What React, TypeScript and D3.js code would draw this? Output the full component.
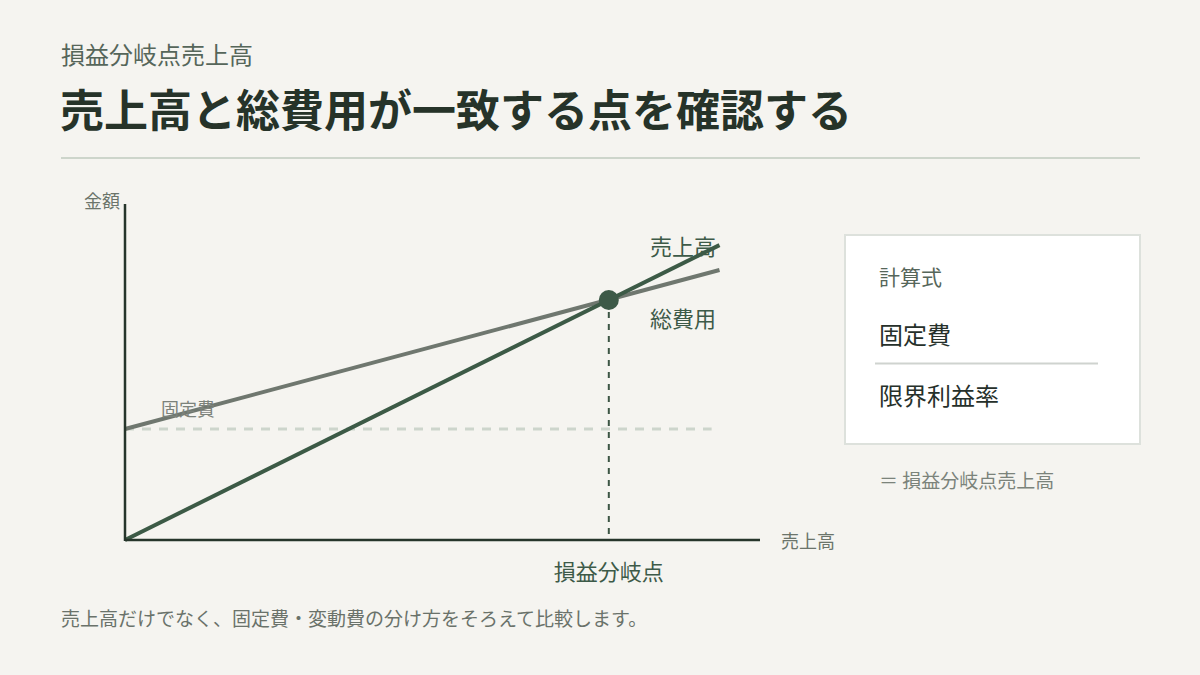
import React from "react";
import * as d3 from "d3";

const salesPoints = [0, 98.3];
const revenueValues = [0, 98.3];
const totalCostValues = [37, 90];
const fixedCostPoints = [0, 97];
const fixedCostValues = [37, 37];
const breakEven = { sales: 80, amount: 80 };
const xDomain = [0, 105];
const yDomain = [0, 112];

const subtitle = "損益分岐点売上高";
const title = "売上高と総費用が一致する点を確認する";
const footer = "売上高だけでなく、固定費・変動費の分け方をそろえて比較します。";

const FONT = "'Noto Sans CJK JP', 'Noto Sans', sans-serif";

export default function App() {
  const x = d3.scaleLinear().domain(xDomain).range([125, 760]);
  const y = d3.scaleLinear().domain(yDomain).range([540, 204]);
  const line = d3
    .line<[number, number]>()
    .x((d) => x(d[0]))
    .y((d) => y(d[1]));
  const revenue = salesPoints.map((s, i) => [s, revenueValues[i]] as [number, number]);
  const total = salesPoints.map((s, i) => [s, totalCostValues[i]] as [number, number]);
  const fixed = fixedCostPoints.map((s, i) => [s, fixedCostValues[i]] as [number, number]);
  const bx = x(breakEven.sales);
  const by = y(breakEven.amount);

  return (
    <svg
      width={1200}
      height={675}
      style={{ position: "absolute", left: 0, top: 0, display: "block" }}
      fontFamily={FONT}
    >
      <rect width={1200} height={675} fill="#f5f4f0" />
      <text x={61} y={64} fontSize={24} fill="#56665a">{subtitle}</text>
      <text x={60} y={127} fontSize={44} fontWeight={700} fill="#263329">{title}</text>
      <line x1={61} x2={1140} y1={158} y2={158} stroke="#cdd5cb" strokeWidth={2} />

      {/* fixed cost dashed */}
      <path d={line(fixed) || ""} stroke="#cdd5cc" strokeWidth={3} fill="none" strokeDasharray="9 8" />
      {/* total cost */}
      <path d={line(total) || ""} stroke="#6f776f" strokeWidth={4} fill="none" />
      {/* revenue */}
      <path d={line(revenue) || ""} stroke="#3c5a46" strokeWidth={4} fill="none" />
      {/* vertical dashed */}
      <line x1={bx} x2={bx} y1={by} y2={y(0)} stroke="#3c5544" strokeWidth={2} strokeDasharray="6 6" />

      {/* axes */}
      <line x1={x(0)} x2={x(0)} y1={y(yDomain[1])} y2={y(0) + 1} stroke="#26352b" strokeWidth={2.5} />
      <line x1={x(0)} x2={x(xDomain[1])} y1={y(0)} y2={y(0)} stroke="#26352b" strokeWidth={2.5} />

      <circle cx={bx} cy={by} r={10} fill="#3d5a48" />

      <text x={120} y={208} fontSize={18} fill="#6b746b" textAnchor="end">金額</text>
      <text x={781} y={548} fontSize={18} fill="#6b746b">売上高</text>
      <text x={161} y={416} fontSize={18} fill="#7c827b">固定費</text>
      <text x={650} y={255} fontSize={22} fill="#3d5a48">売上高</text>
      <text x={650} y={327} fontSize={22} fill="#3d5a48">総費用</text>
      <text x={bx} y={580} fontSize={22} fill="#3d5a48" textAnchor="middle">損益分岐点</text>

      <rect x={845} y={235} width={295} height={209} fill="#ffffff" stroke="#dde1dc" strokeWidth={2} />
      <text x={879} y={285} fontSize={21} fill="#56665a">計算式</text>
      <text x={879} y={344} fontSize={24} fill="#26302a">固定費</text>
      <line x1={875} x2={1098} y1={363.5} y2={363.5} stroke="#cfd3cf" strokeWidth={2} />
      <text x={879} y={405} fontSize={24} fill="#26302a">限界利益率</text>
      <text x={879} y={488} fontSize={19} fill="#7b837b">＝ 損益分岐点売上高</text>

      <text x={61} y={626} fontSize={19} fill="#6a726a">{footer}</text>
    </svg>
  );
}
